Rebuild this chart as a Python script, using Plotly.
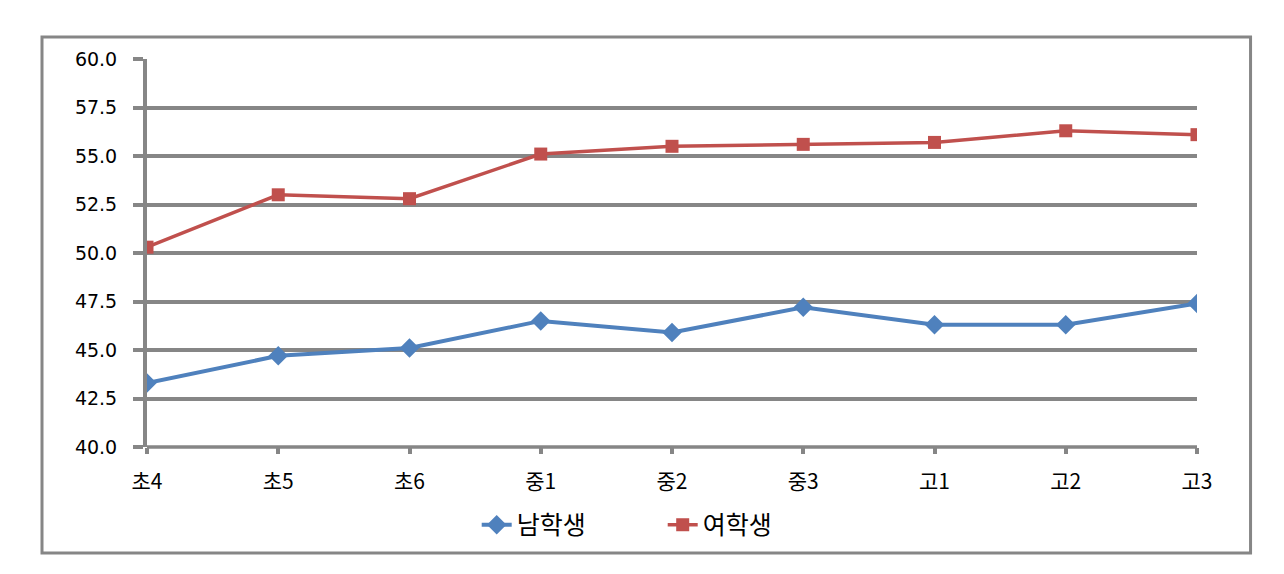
import plotly.graph_objects as go

categories = ["초4", "초5", "초6", "중1", "중2", "중3", "고1", "고2", "고3"]
male = [43.3, 44.7, 45.1, 46.5, 45.9, 47.2, 46.3, 46.3, 47.4]
female = [50.3, 53.0, 52.8, 55.1, 55.5, 55.6, 55.7, 56.3, 56.1]
y_ticks = [40.0, 42.5, 45.0, 47.5, 50.0, 52.5, 55.0, 57.5, 60.0]

xs = list(range(len(categories)))
GRID = "#868686"
FONT = "DejaVu Sans, Noto Sans CJK KR"

fig = go.Figure()
fig.add_trace(go.Scatter(x=xs, y=male, name="남학생", mode="lines+markers",
                         line=dict(color="#4F81BD", width=4),
                         marker=dict(symbol="diamond", size=15, color="#4F81BD")))
fig.add_trace(go.Scatter(x=xs, y=female, name="여학생", mode="lines+markers",
                         line=dict(color="#C0504D", width=3.5),
                         marker=dict(symbol="square", size=13, color="#C0504D")))

fig.update_layout(
    width=1284, height=574,
    margin=dict(l=139, r=95, t=51, b=135),
    paper_bgcolor="white", plot_bgcolor="white",
    font=dict(family=FONT, size=19, color="black"),
    showlegend=True,
    legend=dict(orientation="h", x=0.314, y=-0.201, xanchor="left", yanchor="middle",
                font=dict(family="Noto Sans CJK KR", size=25),
                entrywidth=141, entrywidthmode="pixels"),
    xaxis=dict(range=[0, 8], tickmode="array", tickvals=xs, ticktext=categories,
               showgrid=False, zeroline=False, showline=False,
               ticks="outside", ticklen=6, tickwidth=3.5, tickcolor=GRID,
               ticklabelstandoff=10,
               tickfont=dict(family="Noto Sans CJK KR", size=21), fixedrange=True),
    yaxis=dict(range=[40, 60], tickmode="array", tickvals=y_ticks,
               ticktext=[f"{v:.1f}" for v in y_ticks],
               showgrid=True, gridcolor=GRID, gridwidth=3.5,
               zeroline=False, showline=True, linecolor=GRID, linewidth=4,
               ticks="outside", ticklen=10, tickwidth=3.5, tickcolor=GRID,
               ticklabelstandoff=12, tickfont=dict(size=19)),
    shapes=[dict(type="rect", xref="paper", yref="paper",
                 x0=-0.1, x1=1.051, y0=-0.273, y1=1.0567,
                 line=dict(color=GRID, width=3), fillcolor="rgba(0,0,0,0)", layer="below")],
)
fig.add_shape(type="line", xref="paper", yref="paper", x0=0, x1=1, y0=0, y1=0,
              line=dict(color=GRID, width=3.5), layer="below")

fig.write_html("out.html")
